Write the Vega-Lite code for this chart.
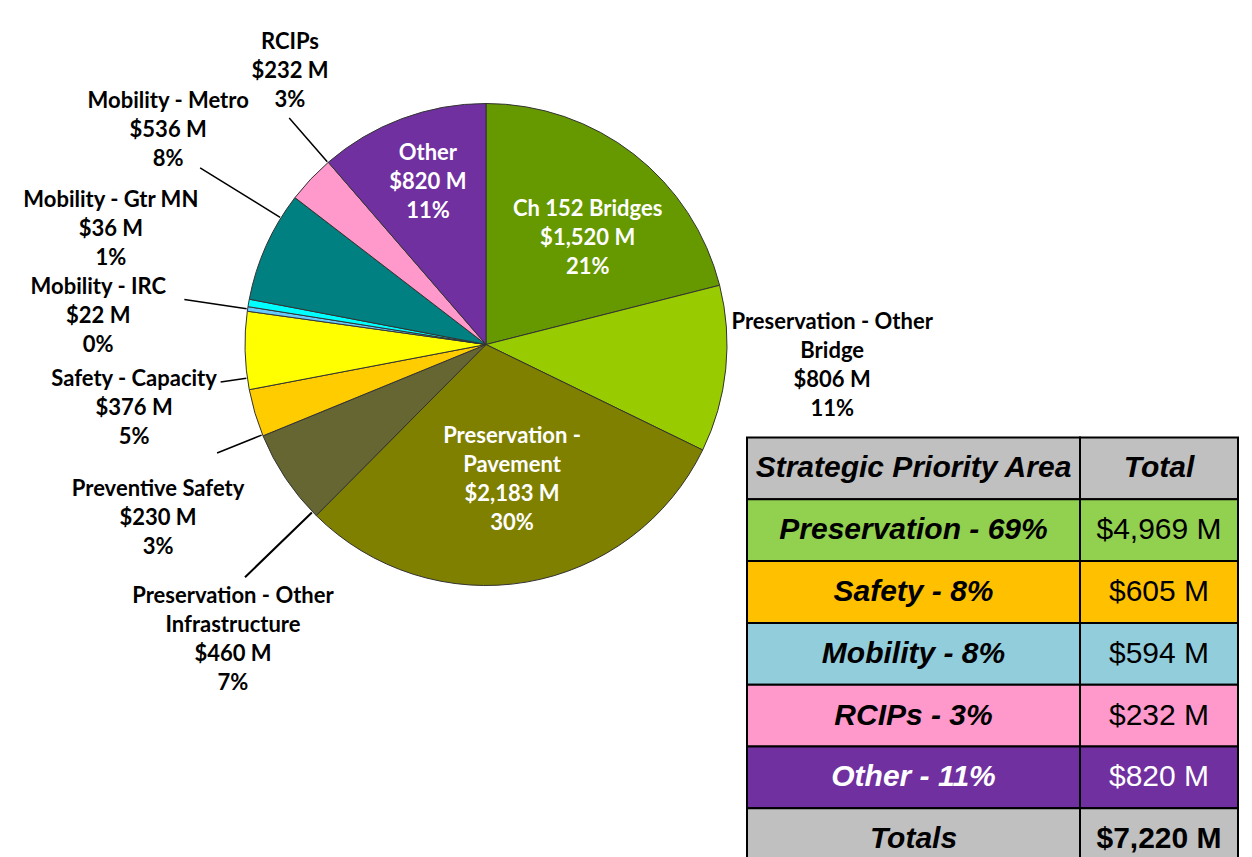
{
  "$schema": "https://vega.github.io/schema/vega-lite/v6.json",
  "background": "white",
  "padding": {"left": 245, "top": 103.5, "right": 1007, "bottom": 753.5},
  "autosize": {"type": "none"},
  "config": {"view": {"stroke": null}},
  "datasets": {
    "slices": [
      {"area": "Ch 152 Bridges", "amount": 1520, "label": ["Ch 152 Bridges", "$1,520 M", "21%"]},
      {"area": "Preservation - Other Bridge", "amount": 806, "label": ["Preservation - Other", "Bridge", "$806 M", "11%"]},
      {"area": "Preservation - Pavement", "amount": 2183, "label": ["Preservation -", "Pavement", "$2,183 M", "30%"]},
      {"area": "Preservation - Other Infrastructure", "amount": 460, "label": ["Preservation - Other", "Infrastructure", "$460 M", "7%"]},
      {"area": "Preventive Safety", "amount": 230, "label": ["Preventive Safety", "$230 M", "3%"]},
      {"area": "Safety - Capacity", "amount": 376, "label": ["Safety - Capacity", "$376 M", "5%"]},
      {"area": "Mobility - IRC", "amount": 22, "label": ["Mobility - IRC", "$22 M", "0%"]},
      {"area": "Mobility - Gtr MN", "amount": 36, "label": ["Mobility - Gtr MN", "$36 M", "1%"]},
      {"area": "Mobility - Metro", "amount": 536, "label": ["Mobility - Metro", "$536 M", "8%"]},
      {"area": "RCIPs", "amount": 232, "label": ["RCIPs", "$232 M", "3%"]},
      {"area": "Other", "amount": 820, "label": ["Other", "$820 M", "11%"]}
    ],
    "table": [
      {"area": "Strategic Priority Area", "total": "Total"},
      {"area": "Preservation - 69%", "total": "$4,969 M"},
      {"area": "Safety - 8%", "total": "$605 M"},
      {"area": "Mobility - 8%", "total": "$594 M"},
      {"area": "RCIPs - 3%", "total": "$232 M"},
      {"area": "Other - 11%", "total": "$820 M"},
      {"area": "Totals", "total": "$7,220 M"}
    ]
  },
  "spacing": 20,
  "bounds": "flush",
  "hconcat": [
    {
      "width": 482,
      "height": 482,
      "data": {"name": "slices"},
      "transform": [{"window": [{"op": "row_number", "as": "idx"}]}],
      "encoding": {
        "theta": {"field": "amount", "type": "quantitative", "stack": true},
        "order": {"field": "idx", "type": "quantitative"}
      },
      "layer": [
        {
          "mark": {"type": "arc", "radius": 241, "stroke": "#333333", "strokeWidth": 1},
          "encoding": {
            "color": {
              "field": "area", "type": "nominal", "sort": null, "legend": null,
              "scale": {
                "domain": ["Ch 152 Bridges", "Preservation - Other Bridge", "Preservation - Pavement", "Preservation - Other Infrastructure", "Preventive Safety", "Safety - Capacity", "Mobility - IRC", "Mobility - Gtr MN", "Mobility - Metro", "RCIPs", "Other"],
                "range": ["#669900", "#99cc00", "#808000", "#666633", "#ffcc00", "#ffff00", "#66ccff", "#00ffff", "#008080", "#ff99cc", "#7030a0"]
              }
            }
          }
        },
        {
          "mark": {"type": "arc", "padAngle": 3.14, "radius": 305, "radius2": 242, "fill": "transparent", "stroke": "black", "strokeWidth": 1.5},
          "encoding": {"strokeOpacity": {"condition": {"test": "datum.area === 'Mobility - IRC'", "value": 1}, "value": 0}}
        },
        {
          "mark": {"type": "arc", "padAngle": 3.14, "radius": 336, "radius2": 242, "thetaOffset": 0.131, "theta2Offset": 0.131, "fill": "transparent", "stroke": "black", "strokeWidth": 1.5},
          "encoding": {"strokeOpacity": {"condition": {"test": "datum.area === 'Mobility - Metro'", "value": 1}, "value": 0}}
        },
        {
          "mark": {"type": "arc", "padAngle": 3.14, "radius": 300, "radius2": 242, "thetaOffset": 0.099, "theta2Offset": 0.099, "fill": "transparent", "stroke": "black", "strokeWidth": 1.5},
          "encoding": {"strokeOpacity": {"condition": {"test": "datum.area === 'RCIPs'", "value": 1}, "value": 0}}
        },
        {
          "mark": {"type": "arc", "padAngle": 3.14, "radius": 268, "radius2": 242, "thetaOffset": -0.115, "theta2Offset": -0.115, "fill": "transparent", "stroke": "black", "strokeWidth": 1.5},
          "encoding": {"strokeOpacity": {"condition": {"test": "datum.area === 'Safety - Capacity'", "value": 1}, "value": 0}}
        },
        {
          "mark": {"type": "arc", "padAngle": 3.14, "radius": 290, "radius2": 242, "thetaOffset": -0.095, "theta2Offset": -0.095, "fill": "transparent", "stroke": "black", "strokeWidth": 1.5},
          "encoding": {"strokeOpacity": {"condition": {"test": "datum.area === 'Preventive Safety'", "value": 1}, "value": 0}}
        },
        {
          "mark": {"type": "arc", "padAngle": 3.14, "radius": 335, "radius2": 242, "thetaOffset": -0.179, "theta2Offset": -0.179, "fill": "transparent", "stroke": "black", "strokeWidth": 2},
          "encoding": {"strokeOpacity": {"condition": {"test": "datum.area === 'Preservation - Other Infrastructure'", "value": 1}, "value": 0}}
        },
        {
          "mark": {"type": "text", "radius": 146, "dx": 12, "dy": -20, "align": "center", "baseline": "middle", "font": "Lato", "fontWeight": "bold", "fontSize": 22, "lineHeight": 29, "color": "white"},
          "encoding": {"text": {"condition": {"test": "datum.area === 'Ch 152 Bridges'", "field": "label", "type": "nominal"}, "value": ""}}
        },
        {
          "mark": {"type": "text", "radius": 347, "dx": 1, "dy": -57.5, "align": "center", "baseline": "middle", "font": "Lato", "fontWeight": "bold", "fontSize": 22, "lineHeight": 29, "color": "black"},
          "encoding": {"text": {"condition": {"test": "datum.area === 'Preservation - Other Bridge'", "field": "label", "type": "nominal"}, "value": ""}}
        },
        {
          "mark": {"type": "text", "radius": 138, "dx": 3, "dy": -44.5, "align": "center", "baseline": "middle", "font": "Lato", "fontWeight": "bold", "fontSize": 22, "lineHeight": 29, "color": "white"},
          "encoding": {"text": {"condition": {"test": "datum.area === 'Preservation - Pavement'", "field": "label", "type": "nominal"}, "value": ""}}
        },
        {
          "mark": {"type": "text", "radius": 374, "dx": 58, "dy": 43.5, "align": "center", "baseline": "middle", "font": "Lato", "fontWeight": "bold", "fontSize": 22, "lineHeight": 29, "color": "black"},
          "encoding": {"text": {"condition": {"test": "datum.area === 'Preservation - Other Infrastructure'", "field": "label", "type": "nominal"}, "value": ""}}
        },
        {
          "mark": {"type": "text", "radius": 364, "dx": 21, "dy": 41, "align": "center", "baseline": "middle", "font": "Lato", "fontWeight": "bold", "fontSize": 22, "lineHeight": 29, "color": "black"},
          "encoding": {"text": {"condition": {"test": "datum.area === 'Preventive Safety'", "field": "label", "type": "nominal"}, "value": ""}}
        },
        {
          "mark": {"type": "text", "radius": 353, "dx": 1, "dy": 26, "align": "center", "baseline": "middle", "font": "Lato", "fontWeight": "bold", "fontSize": 22, "lineHeight": 29, "color": "black"},
          "encoding": {"text": {"condition": {"test": "datum.area === 'Safety - Capacity'", "field": "label", "type": "nominal"}, "value": ""}}
        },
        {
          "mark": {"type": "text", "radius": 388, "dx": -4, "dy": 0, "align": "center", "baseline": "middle", "font": "Lato", "fontWeight": "bold", "fontSize": 22, "lineHeight": 29, "color": "black"},
          "encoding": {"text": {"condition": {"test": "datum.area === 'Mobility - IRC'", "field": "label", "type": "nominal"}, "value": ""}}
        },
        {
          "mark": {"type": "text", "radius": 390, "dx": 9, "dy": -77, "align": "center", "baseline": "middle", "font": "Lato", "fontWeight": "bold", "fontSize": 22, "lineHeight": 29, "color": "black"},
          "encoding": {"text": {"condition": {"test": "datum.area === 'Mobility - Gtr MN'", "field": "label", "type": "nominal"}, "value": ""}}
        },
        {
          "mark": {"type": "text", "radius": 378, "dx": 27, "dy": -89, "align": "center", "baseline": "middle", "font": "Lato", "fontWeight": "bold", "fontSize": 22, "lineHeight": 29, "color": "black"},
          "encoding": {"text": {"condition": {"test": "datum.area === 'Mobility - Metro'", "field": "label", "type": "nominal"}, "value": ""}}
        },
        {
          "mark": {"type": "text", "radius": 330, "dx": 44, "dy": -76, "align": "center", "baseline": "middle", "font": "Lato", "fontWeight": "bold", "fontSize": 22, "lineHeight": 29, "color": "black"},
          "encoding": {"text": {"condition": {"test": "datum.area === 'RCIPs'", "field": "label", "type": "nominal"}, "value": ""}}
        },
        {
          "mark": {"type": "text", "radius": 172, "dx": 2, "dy": -30, "align": "center", "baseline": "middle", "font": "Lato", "fontWeight": "bold", "fontSize": 22, "lineHeight": 29, "color": "white"},
          "encoding": {"text": {"condition": {"test": "datum.area === 'Other'", "field": "label", "type": "nominal"}, "value": ""}}
        }
      ]
    },
    {
      "spacing": 0,
      "bounds": "flush",
      "vconcat": [
        {
          "width": 1,
          "height": 333.5,
          "data": {"values": []},
          "mark": "point"
        },
        {
          "spacing": 0,
          "bounds": "flush",
          "hconcat": [
            {
              "width": 333,
              "height": 432.6,
              "data": {"name": "table"},
              "encoding": {
                "y": {"field": "area", "type": "nominal", "sort": null, "axis": null,
                      "scale": {"paddingInner": 0, "paddingOuter": 0, "round": false}}
              },
              "layer": [
                {
                  "mark": {"type": "rect", "stroke": "black", "strokeWidth": 2},
                  "encoding": {
                    "fill": {"field": "area", "type": "nominal", "sort": null, "legend": null,
                      "scale": {"domain": ["Strategic Priority Area", "Preservation - 69%", "Safety - 8%", "Mobility - 8%", "RCIPs - 3%", "Other - 11%", "Totals"],
                                "range": ["#c0c0c0", "#92d050", "#ffc000", "#92cddc", "#ff99cc", "#7030a0", "#c0c0c0"]}}
                  }
                },
                {
                  "mark": {"type": "text", "align": "center", "baseline": "middle", "font": "Liberation Sans", "fontSize": 30, "fontWeight": "bold", "fontStyle": "italic"},
                  "encoding": {
                    "text": {"field": "area", "type": "nominal"},
                    "color": {"condition": {"test": "datum.area === 'Other - 11%'", "value": "white"}, "value": "black"}
                  }
                }
              ]
            },
            {
              "width": 158,
              "height": 432.6,
              "data": {"name": "table"},
              "encoding": {
                "y": {"field": "area", "type": "nominal", "sort": null, "axis": null,
                      "scale": {"paddingInner": 0, "paddingOuter": 0, "round": false}}
              },
              "layer": [
                {
                  "mark": {"type": "rect", "stroke": "black", "strokeWidth": 2},
                  "encoding": {
                    "fill": {"field": "area", "type": "nominal", "sort": null, "legend": null,
                      "scale": {"domain": ["Strategic Priority Area", "Preservation - 69%", "Safety - 8%", "Mobility - 8%", "RCIPs - 3%", "Other - 11%", "Totals"],
                                "range": ["#c0c0c0", "#92d050", "#ffc000", "#92cddc", "#ff99cc", "#7030a0", "#c0c0c0"]}}
                  }
                },
                {
                  "transform": [{"filter": "datum.area === 'Strategic Priority Area'"}],
                  "mark": {"type": "text", "align": "center", "baseline": "middle", "font": "Liberation Sans", "fontSize": 30, "fontWeight": "bold", "fontStyle": "italic", "color": "black"},
                  "encoding": {"text": {"field": "total", "type": "nominal"}}
                },
                {
                  "transform": [{"filter": "datum.area !== 'Strategic Priority Area' && datum.area !== 'Totals'"}],
                  "mark": {"type": "text", "align": "center", "baseline": "middle", "font": "Liberation Sans", "fontSize": 30},
                  "encoding": {
                    "text": {"field": "total", "type": "nominal"},
                    "color": {"condition": {"test": "datum.area === 'Other - 11%'", "value": "white"}, "value": "black"}
                  }
                },
                {
                  "transform": [{"filter": "datum.area === 'Totals'"}],
                  "mark": {"type": "text", "align": "center", "baseline": "middle", "font": "Liberation Sans", "fontSize": 30, "fontWeight": "bold", "color": "black"},
                  "encoding": {"text": {"field": "total", "type": "nominal"}}
                }
              ]
            }
          ]
        }
      ]
    }
  ]
}
